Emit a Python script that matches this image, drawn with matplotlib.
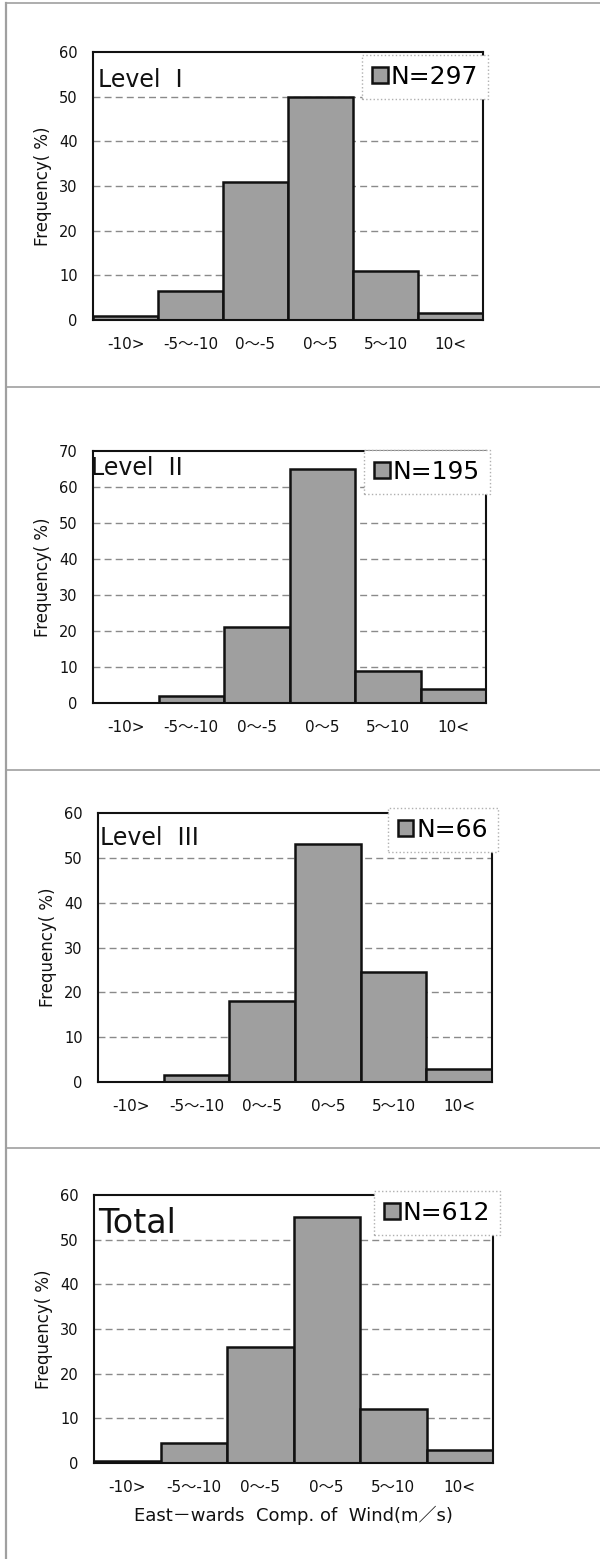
import matplotlib

matplotlib.use("Agg")

import matplotlib.pyplot as plt
from matplotlib.lines import Line2D

plt.rcParams["font.family"] = ["DejaVu Sans", "Noto Sans CJK JP"]

CATEGORIES = ["-10>", "-5〜-10", "0〜-5", "0〜5", "5〜10", "10<"]
LEVEL1 = [0.8, 6.5, 31, 50, 11, 1.5]
LEVEL2 = [0.0, 2.0, 21, 65, 9, 4]
LEVEL3 = [0.0, 1.5, 18, 53, 24.5, 3]
TOTAL = [0.5, 4.5, 26, 55, 12, 3]
COUNTS = [297, 195, 66, 612]
TITLES = ["Level  I", "Level  II", "Level  III", "Total"]
YMAX = [60, 70, 60, 60]
XLABEL = "East－wards  Comp. of  Wind(m／s)"
YLABEL = "Frequency( %)"

INK = "#111111"
BAR = "#9f9f9f"
GRID = "#8a8a8a"
FRAME = "#a0a0a0"
W, H = 600, 1559

# pixel boxes: left, right, top, bottom
BOXES = [(93, 483, 52, 320), (93, 486, 451, 703), (98, 492, 813, 1082), (94, 493, 1195, 1463)]
TITLE_POS = [(0.013, 0.87, 17), (-0.005, 0.905, 17), (0.005, 0.881, 17), (0.01, 0.858, 24)]
LEGEND_POS = [(1.013, 0.989), (1.010, 1.004), (1.015, 1.019), (1.018, 1.015)]


def draw_panel(fig, box, values, count, title, ymax, title_pos, legend_pos, xlabel=None):
    left, right, top, bottom = box
    ax = fig.add_axes((left / W, 1 - bottom / H, (right - left) / W, (bottom - top) / H))
    x = range(len(CATEGORIES))
    bars = ax.bar(x, values, width=1.0, color=BAR, edgecolor=INK, linewidth=1.8, zorder=2)
    ax.set_xlim(-0.5, len(CATEGORIES) - 0.5)
    ax.set_ylim(0, ymax)
    ax.set_yticks(range(0, ymax + 1, 10))
    ax.set_xticks(list(x))
    ax.set_xticklabels(CATEGORIES)
    ax.tick_params(length=0, colors=INK)
    ax.tick_params(axis="y", pad=11, labelsize=10.5)
    ax.tick_params(axis="x", pad=12, labelsize=11)
    for tick in range(10, ymax, 10):
        ax.axhline(tick, color=GRID, linewidth=1.0, linestyle=(0, (5, 3)), zorder=1)
    for spine in ax.spines.values():
        spine.set_color(INK)
        spine.set_linewidth(1.5)
    ax.set_ylabel(YLABEL, fontsize=12, color=INK, labelpad=5)
    if xlabel:
        ax.set_xlabel(xlabel, fontsize=13, color=INK, labelpad=8)
    tx, ty, size = title_pos
    ax.text(tx, ty, title, transform=ax.transAxes, fontsize=size, color=INK,
            ha="left", va="baseline", zorder=6)
    legend = ax.legend([bars.patches[0]], [f"N={count}"], loc="upper right",
                       bbox_to_anchor=legend_pos, fontsize=18, frameon=True,
                       fancybox=False, handlelength=0.62, handleheight=0.62,
                       handletextpad=0.12, borderpad=0.4, borderaxespad=0)
    frame = legend.get_frame()
    frame.set_facecolor("white")
    frame.set_alpha(1)
    frame.set_edgecolor("#b0b0b0")
    frame.set_linestyle(":")
    frame.set_linewidth(1.0)
    return ax


fig = plt.figure(figsize=(W / 100, H / 100), dpi=100, facecolor="white")

series = [LEVEL1, LEVEL2, LEVEL3, TOTAL]
for i, values in enumerate(series):
    draw_panel(fig, BOXES[i], values, COUNTS[i], TITLES[i], YMAX[i], TITLE_POS[i],
               LEGEND_POS[i], xlabel=XLABEL if i == 3 else None)

# panel frame lines
for y in (3, 387, 770, 1148):
    fig.add_artist(Line2D([6 / W, 1], [1 - y / H] * 2, color=FRAME, linewidth=1.2))
fig.add_artist(Line2D([6 / W] * 2, [0, 1 - 3 / H], color=FRAME, linewidth=1.6))

fig.savefig("out.png", dpi=100, facecolor="white")
